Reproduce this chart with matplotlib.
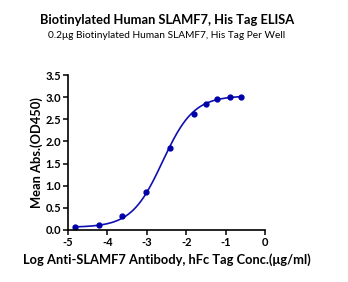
import matplotlib
matplotlib.use("Agg")
import matplotlib.pyplot as plt
import numpy as np

plt.rcParams['font.family'] = ['Lato', 'DejaVu Sans']

# data
log_conc = [-4.82, -4.22, -3.62, -3.02, -2.41, -1.81, -1.50, -1.21, -0.90, -0.60]
mean_abs = [0.06, 0.12, 0.31, 0.85, 1.85, 2.63, 2.85, 2.95, 3.01, 3.01]

# 4PL fit parameters estimated from the curve
bottom, top, log_ec50, hill = 0.06, 3.03, -2.60, 1.1

x_ticks = [-5, -4, -3, -2, -1, 0]
y_ticks = [0.0, 0.5, 1.0, 1.5, 2.0, 2.5, 3.0, 3.5]

blue = '#1010b0'

fig = plt.figure(figsize=(3.48, 2.82), dpi=100)
ax = fig.add_axes([68/348, 1-230/282, (265-68)/348, (230-75)/282])

xs = np.linspace(min(log_conc), max(log_conc), 200)
fit = bottom + (top - bottom) / (1 + 10 ** ((log_ec50 - xs) * hill))
ax.plot(xs, fit, color=blue, lw=1.2)
ax.plot(log_conc, mean_abs, 'o', color='#0000a8', ms=3.5)

ax.set_xlim(-5, 0)
ax.set_ylim(0, 3.5)
ax.set_xticks(x_ticks)
ax.set_xticklabels([str(t) for t in x_ticks])
ax.set_yticks(y_ticks)
ax.set_yticklabels([f"{t:.1f}" for t in y_ticks])
for lab in ax.get_xticklabels() + ax.get_yticklabels():
    lab.set_fontweight('bold')
    lab.set_fontsize(8)
ax.tick_params(direction='out', length=3.5, width=1.1, pad=1.5)
ax.spines['top'].set_visible(False)
ax.spines['right'].set_visible(False)
ax.spines['left'].set_linewidth(1.2)
ax.spines['bottom'].set_linewidth(1.2)

ax.set_xlabel("Log Anti-SLAMF7 Antibody, hFc Tag Conc.(\u03bcg/ml)", fontsize=9.3,
              fontweight='bold', labelpad=4)
ax.set_ylabel("Mean Abs.(OD450)", fontsize=9.3, fontweight='bold', labelpad=2)

fig.text(167/348, 1-20/282, "Biotinylated Human SLAMF7, His Tag ELISA",
         ha='center', va='center', fontsize=9.3, fontweight='bold')
fig.text(167/348, 1-35/282, "0.2\u03bcg Biotinylated Human SLAMF7, His Tag Per Well",
         ha='center', va='center', fontsize=7.3)

fig.savefig("out.png", dpi=100)
